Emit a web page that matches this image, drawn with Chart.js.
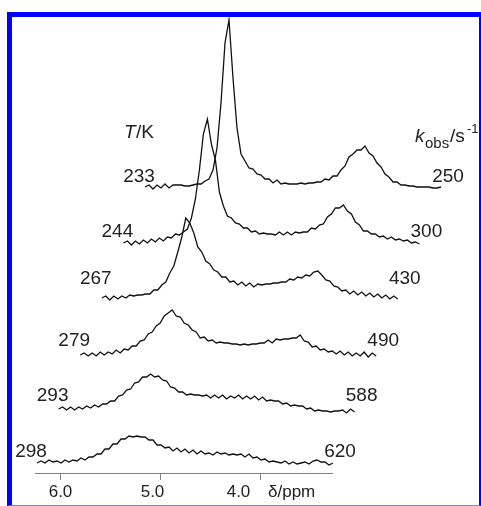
<!DOCTYPE html>
<html>
<head>
<meta charset="utf-8">
<script src="https://cdn.jsdelivr.net/npm/chart.js"></script>
<style>
  body { margin: 0; background: #fff; }
  #wrap { position: relative; width: 481px; height: 506px; }
  #nmr { position: absolute; left: 0; top: 0; }
  #frame {
    position: absolute; left: 7px; top: 12px; width: 467px; height: 488px;
    border-left: 5px solid #0000ff; border-top: 5px solid #0000ff;
    border-right: 2px solid #0000ff; border-bottom: 1px solid #8080ff;
    pointer-events: none;
  }
</style>
</head>
<body>
<div id="wrap">
  <canvas id="nmr" width="481" height="506"></canvas>
  <div id="frame"></div>
</div>
<script>
// chemical shift grid (ppm), shared by every spectrum
const ppmGrid = [6.23,6.19,6.15,6.11,6.07,6.03,5.99,5.95,5.91,5.87,5.83,5.79,5.75,5.71,5.67,5.63,5.59,5.55,5.51,5.47,
  5.43,5.39,5.35,5.31,5.27,5.23,5.19,5.15,5.11,5.07,5.03,4.99,4.95,4.91,4.87,4.83,4.79,4.75,4.71,4.67,
  4.63,4.59,4.55,4.51,4.47,4.43,4.39,4.35,4.31,4.27,4.23,4.19,4.15,4.11,4.07,4.03,3.99,3.95,3.91,3.87,
  3.83,3.79,3.75,3.71,3.67,3.63,3.59,3.55,3.51,3.47,3.43,3.39,3.35,3.31,3.27]

const labelTemp = ["298","293","279","267","244","233"]
const labelKobs = ["620","588","490","430","300","250"]

// intensities, front (298 K) to back (233 K)
const int298 = [0,2,0,3,1,2,0,3,1,3, 2,5,3,6,6,9,9,14,14,19, 19,24,24,27,26,27,26,26,23,23,
  18,18,15,16,12,15,11,14,10,13, 9,12,9,10,8,11,9,10,8,9, 8,9,6,9,5,6,3,4,1,2,
  1,0,2,-1,1,-1,0,1,-1,2, 3,1,1,-2,0]
const int293 = [-1,1,-2,1,-2,1,-1,2,0,3, 1,4,4,7,7,12,13,18,19,25, 26,31,31,34,31,32,28,27,21,20,
  16,16,13,14,13,13,12,13,10,13, 10,13,9,12,10,13,9,12,9,12, 8,11,7,8,7,7,4,5,2,3,
  2,2,-1,0,-3,-2,-3,-3,-4,-3, -3,-2,-5,-1,-4]
const int279 = [-2,0,-3,0,-3,1,-2,1,-1,3, 0,4,3,7,7,12,13,19,21,27, 30,37,40,43,37,36,30,28,23,21,
  15,16,12,13,10,11,10,10,9,9, 8,9,8,9,9,10,10,13,10,14, 13,14,14,15,15,18,12,11,6,7,
  3,4,1,2,-1,2,-2,1,-3,0, -3,1,-4,0,-3]
const int267 = [0,2,-2,2,-1,2,0,3,2,3, 3,4,4,8,8,13,16,25,32,46, 61,80,75,65,51,46,37,34,28,26,
  21,21,16,17,13,16,12,15,11,14, 13,14,14,15,15,16,16,19,18,21, 20,23,22,26,27,23,18,17,12,11,
  7,8,4,7,3,6,2,5,1,4, 0,3,-1,2,-1]
const int244 = [0,2,-2,2,-1,3,0,4,1,5, 2,6,5,9,8,11,14,25,44,73, 109,124,99,83,51,37,27,25,20,19,
  15,15,11,12,9,10,9,9,8,11, 8,11,8,11,10,11,11,15,14,18, 19,26,29,35,35,38,32,29,21,18,
  12,12,9,9,6,7,4,6,3,4, 2,3,0,1,-1]
const int233 = [1,3,-1,3,0,4,0,3,3,3, 2,2,3,4,4,7,9,18,40,85, 145,168,110,60,34,27,20,19,14,13,
  9,9,5,8,4,5,4,4,4,5, 4,5,5,6,6,9,8,12,12,18, 22,31,34,38,38,42,35,32,25,21,
  14,11,6,6,3,3,2,2,1,1, 1,1,0,0,1]

const tickValues = [6.0, 5.0, 4.0]
const tickLabels = ["6.0", "5.0", "4.0"]

const spectra = [int298, int293, int279, int267, int244, int233]

// stacking: each spectrum further back is shifted right and up
const shiftPpm = 0.216
const baseFront = 43
const stepUp = 55

const datasets = spectra.map(function (ints, j) {
  return {
    data: ints.map(function (v, i) {
      return { x: ppmGrid[i] - j * shiftPpm, y: baseFront + j * stepUp + v }
    }),
    borderColor: "#111",
    borderWidth: 1.3,
    pointRadius: 0,
    tension: 0,
    fill: false
  }
})

const font = "Liberation Sans, Arial, sans-serif"
const rowBaseline = [457, 401, 346, 284, 237, 182]
// tick labels in the original sit a little left of their ticks
const tickLabelShift = [0, -8, -22]

const labelPlugin = {
  id: "nmrLabels",
  afterDatasetsDraw: function (chart) {
    const ctx = chart.ctx
    const xs = chart.scales.x
    ctx.save()

    // ppm axis under the front spectrum
    const axisY = 473
    ctx.strokeStyle = "#808080"
    ctx.lineWidth = 1
    ctx.beginPath()
    ctx.moveTo(xs.getPixelForValue(6.25), axisY + 0.5)
    ctx.lineTo(xs.getPixelForValue(3.27), axisY + 0.5)
    ctx.stroke()
    ctx.fillStyle = "#222"
    ctx.font = "17px " + font
    ctx.textAlign = "center"
    ctx.textBaseline = "alphabetic"
    tickValues.forEach(function (v, i) {
      const px = Math.round(xs.getPixelForValue(v)) + 0.5
      ctx.beginPath()
      ctx.moveTo(px, axisY + 1)
      ctx.lineTo(px, axisY + 7)
      ctx.stroke()
      ctx.fillText(tickLabels[i], px + tickLabelShift[i], 497)
    })
    ctx.textAlign = "left"
    ctx.fillText("\u03b4/ppm", 268, 497)

    // temperature and rate labels beside each trace
    ctx.font = "19px " + font
    ctx.textAlign = "center"
    for (let j = 0; j < spectra.length; j++) {
      const left = xs.getPixelForValue(ppmGrid[0] - j * shiftPpm)
      const right = xs.getPixelForValue(ppmGrid[ppmGrid.length - 1] - j * shiftPpm)
      ctx.fillText(labelTemp[j], left - 6, rowBaseline[j])
      ctx.fillText(labelKobs[j], right + 7, rowBaseline[j])
    }

    // column headers
    ctx.textAlign = "left"
    ctx.font = "italic 19px " + font
    ctx.fillText("T", 124, 138)
    ctx.font = "19px " + font
    ctx.fillText("/K", 136, 138)

    ctx.font = "italic 19px " + font
    ctx.fillText("k", 415, 142)
    ctx.font = "15px " + font
    ctx.fillText("obs", 425, 148)
    ctx.font = "19px " + font
    ctx.fillText("/s", 450, 142)
    ctx.font = "13px " + font
    ctx.fillText("-1", 467, 133)
    ctx.restore()
  }
}

new Chart("nmr", {
  type: "line",
  data: { datasets: datasets },
  options: {
    responsive: false,
    animation: false,
    layout: { padding: 0 },
    plugins: { legend: { display: false }, tooltip: { enabled: false } },
    scales: {
      x: { type: "linear", reverse: true, min: 1.79, max: 6.6, display: false },
      y: { type: "linear", min: 0, max: 506, display: false }
    }
  },
  plugins: [labelPlugin]
})
</script>
</body>
</html>
